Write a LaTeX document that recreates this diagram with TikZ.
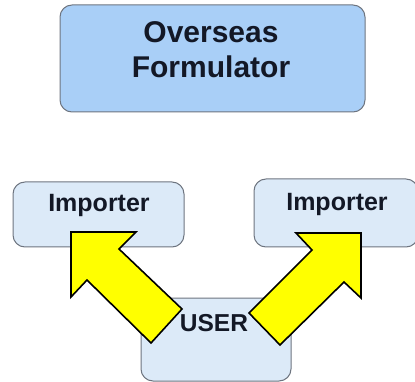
\documentclass[tikz,border=0pt]{standalone}
\usepackage{fontspec}
\setmainfont{Liberation Sans}
\definecolor{topfill}{HTML}{A9CFF7}
\definecolor{boxfill}{HTML}{DCEAF8}
\definecolor{boxline}{HTML}{6E7580}
\definecolor{txt}{HTML}{131826}
\definecolor{arrowfill}{HTML}{FFFF00}
\begin{document}
\begin{tikzpicture}[x=1pt,y=-1pt,
  box/.style={draw=boxline,line width=1pt,rounded corners=12pt,inner sep=0pt},
  lab/.style={text=txt,font=\bfseries,inner sep=0pt,anchor=base},
  bigarrow/.style={draw=black,line width=1.6pt,fill=arrowfill,line join=miter}]
\useasboundingbox (0,0) rectangle (415,382);
\begin{scope}
\clip (0,0) rectangle (415,382);
\node[box,fill=topfill,minimum width=305pt,minimum height=107pt] (top) at (212.5,58.5) {};
\node[box,fill=boxfill,minimum width=171pt,minimum height=65pt] (imp1) at (98.5,214.5) {};
\node[box,fill=boxfill,minimum width=164pt,minimum height=68pt] (imp2) at (336,213) {};
\node[box,fill=boxfill,minimum width=150pt,minimum height=83pt] (user) at (216,339.5) {};
\end{scope}
\node[lab,font=\bfseries\fontsize{30}{35}\selectfont,align=center,anchor=center] (toptext) at (211,50) {Overseas\\Formulator};
\node[lab,font=\bfseries\fontsize{25}{29}\selectfont] (imp1text) at (99,212) {Importer};
\node[lab,font=\bfseries\fontsize{25}{29}\selectfont] (imp2text) at (337,211) {Importer};
\node[lab,font=\bfseries\fontsize{24.5}{28}\selectfont] (usertext) at (214,331) {USER};
\draw[bigarrow] (71,232) -- (136,232) -- (119,249) -- (182,309) -- (151,343) -- (87,280) -- (71,297) -- cycle;
\draw[bigarrow] (361,233) -- (296,233) -- (312,250) -- (249,313) -- (280,345) -- (344,282) -- (361,298) -- cycle;
\end{tikzpicture}
\end{document}
